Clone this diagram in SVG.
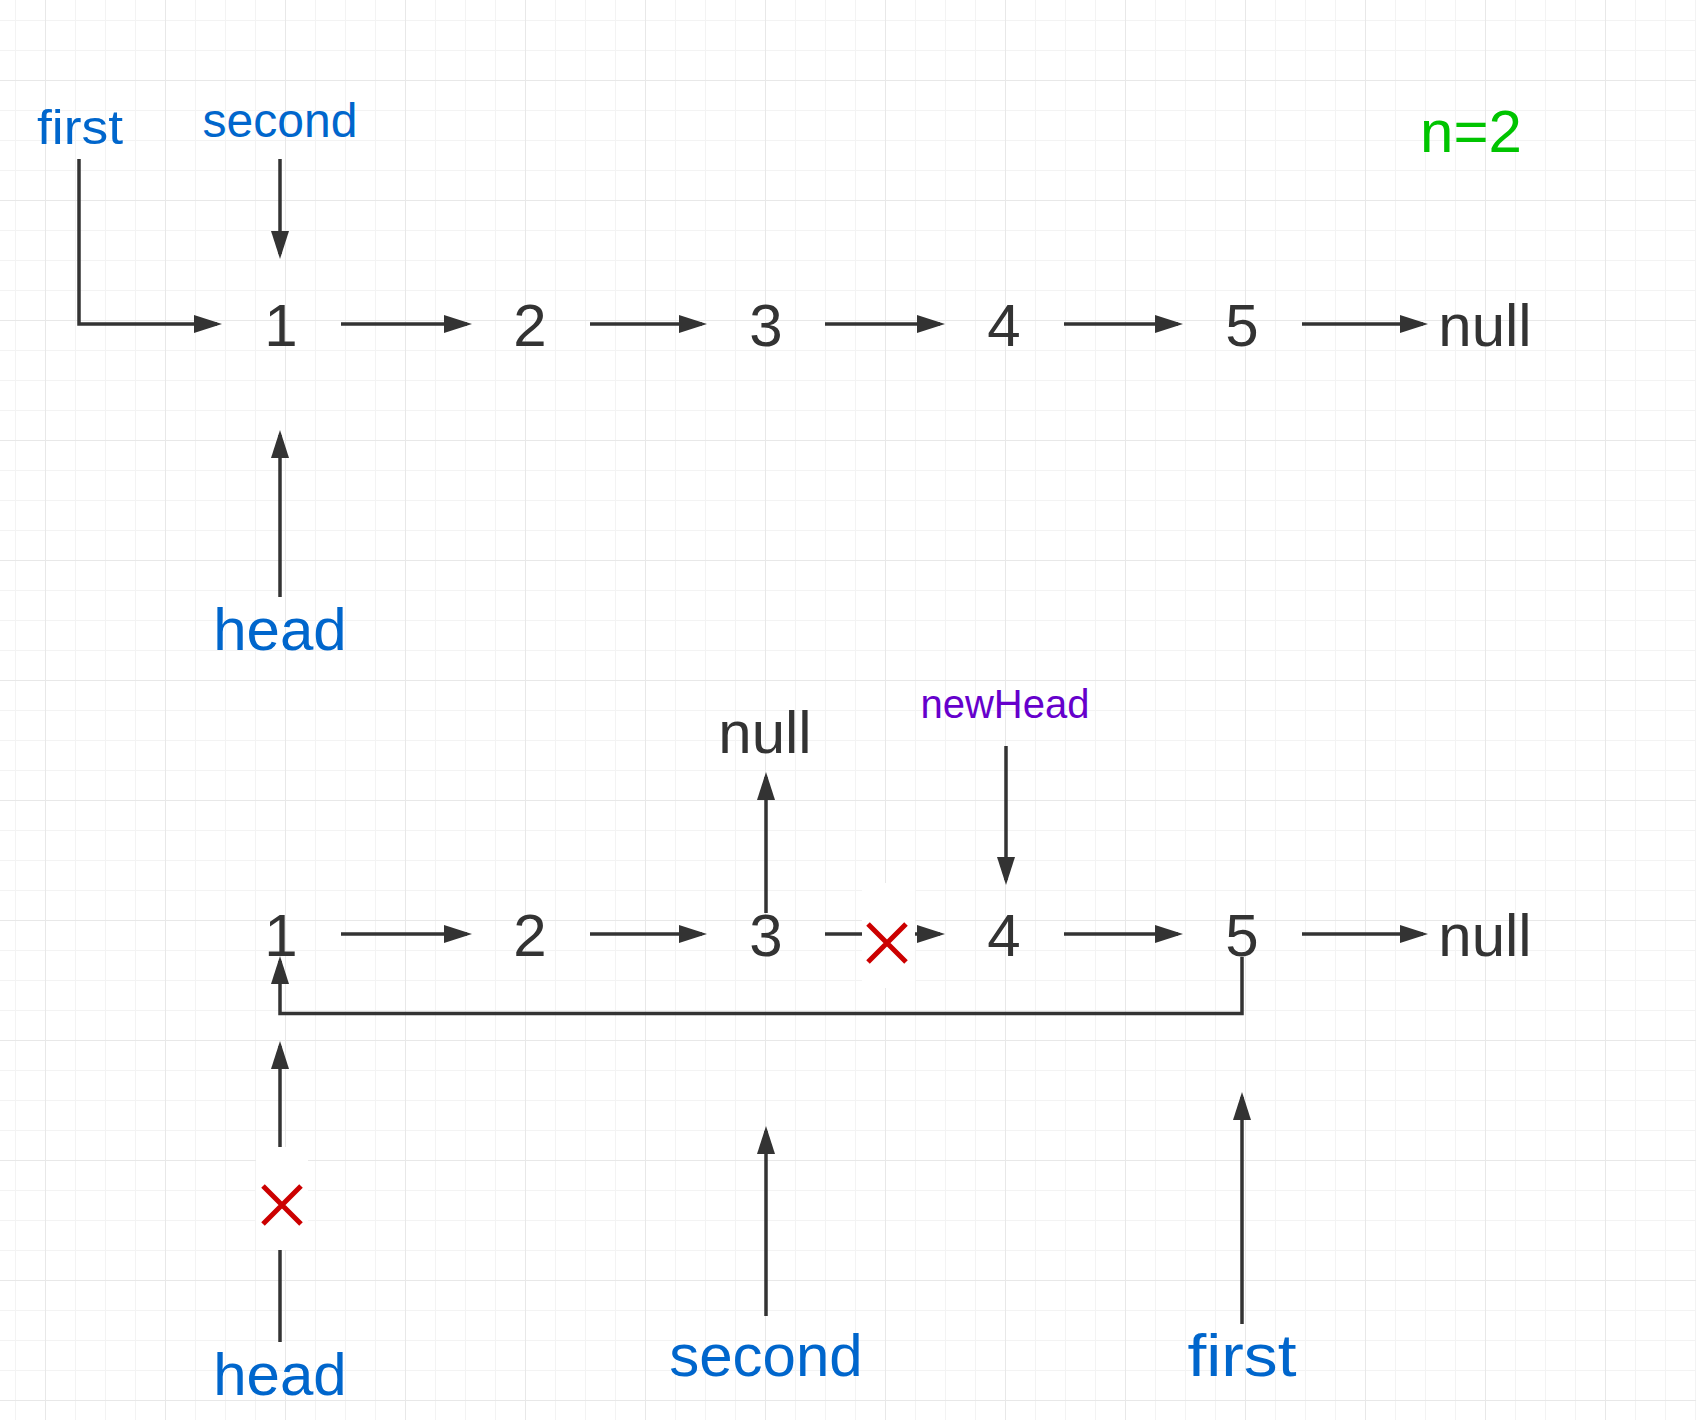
<svg xmlns="http://www.w3.org/2000/svg" width="1696" height="1420" viewBox="0 0 1696 1420">
  <defs>
    <pattern id="gridMinor" patternUnits="userSpaceOnUse" x="15" y="20" width="30" height="30">
      <rect x="0" y="0" width="30" height="1" fill="#f3f3f3"/>
      <rect x="0" y="0" width="1" height="30" fill="#f3f3f3"/>
    </pattern>
    <pattern id="gridMajor" patternUnits="userSpaceOnUse" x="45" y="80" width="120" height="120">
      <rect x="0" y="0" width="120" height="1" fill="#e8e8e8"/>
      <rect x="0" y="0" width="1" height="120" fill="#e8e8e8"/>
    </pattern>
    <marker id="arrow" viewBox="0 0 28 18" refX="23" refY="9" markerWidth="28" markerHeight="18" markerUnits="userSpaceOnUse" orient="auto">
      <path d="M0,0 L28,9 L0,18 Z" fill="#333333"/>
    </marker>
  </defs>
  <style>
    .val { font-family: "Liberation Sans", Arial, Helvetica, sans-serif; font-size: 60px; fill: #333333; text-anchor: middle; }
    .ptr { font-family: "Liberation Sans", Arial, Helvetica, sans-serif; fill: #0066cc; text-anchor: middle; }
    .big { font-size: 60px; }
    .small { font-size: 48px; }
    .edge { fill: none; stroke: #333333; stroke-width: 3.5; marker-end: url(#arrow); }
    .mask { fill: #ffffff; stroke: none; }
    .cross { stroke: #cc0000; stroke-width: 5; fill: none; }
  </style>

  <rect x="0" y="0" width="1696" height="1420" fill="#ffffff"/>
  <rect x="0" y="0" width="1696" height="1420" fill="url(#gridMinor)"/>
  <rect x="0" y="0" width="1696" height="1420" fill="url(#gridMajor)"/>

  <g id="connectors">
    <path class="edge" d="M79 159 V324 H217"/>
    <path class="edge" d="M280 159 V254"/>
    <path class="edge" d="M280 597 V435"/>
    <path class="edge" d="M341 324 H467"/>
    <path class="edge" d="M590 324 H702"/>
    <path class="edge" d="M825 324 H940"/>
    <path class="edge" d="M1064 324 H1178"/>
    <path class="edge" d="M1302 324 H1423"/>
    <path class="edge" d="M341 934 H467"/>
    <path class="edge" d="M590 934 H702"/>
    <path class="edge" d="M825 934 H940"/>
    <path class="edge" d="M1064 934 H1178"/>
    <path class="edge" d="M1302 934 H1423"/>
    <path class="edge" d="M766 913 V777"/>
    <path class="edge" d="M1006 746 V880"/>
    <path class="edge" d="M1242 957 V1013.5 H280 V961"/>
    <path class="edge" d="M280 1342 V1046"/>
    <path class="edge" d="M766 1316 V1131"/>
    <path class="edge" d="M1242 1324 V1097"/>
    <g id="cut-3-4">
      <rect class="mask" x="862" y="883" width="53" height="105"/>
      <path class="cross" d="M868 924 L906 962 M906 924 L868 962"/>
    </g>
    <g id="cut-head">
      <rect class="mask" x="256" y="1147" width="52" height="103"/>
      <path class="cross" d="M263 1186 L301 1224 M301 1186 L263 1224"/>
    </g>
  </g>

  <g id="top-first"><text class="ptr small" x="80" y="144" textLength="86" lengthAdjust="spacingAndGlyphs">first</text></g>
  <g id="top-second"><text class="ptr small" x="280" y="137">second</text></g>
  <g id="n-label"><text x="1471" y="152" font-family="Liberation Sans, Arial, sans-serif" font-size="60" fill="#00c400" text-anchor="middle">n=2</text></g>
  <g id="top-n1"><text class="val" x="281" y="346">1</text></g>
  <g id="top-n2"><text class="val" x="530" y="346">2</text></g>
  <g id="top-n3"><text class="val" x="766" y="346">3</text></g>
  <g id="top-n4"><text class="val" x="1004" y="346">4</text></g>
  <g id="top-n5"><text class="val" x="1242" y="346">5</text></g>
  <g id="top-null"><text class="val" x="1485" y="346">null</text></g>
  <g id="top-head"><text class="ptr big" x="280" y="650">head</text></g>

  <g id="mid-null"><text class="val" x="765" y="753">null</text></g>
  <g id="newHead"><text x="1005" y="718" font-family="Liberation Sans, Arial, sans-serif" font-size="40" fill="#6600cc" text-anchor="middle">newHead</text></g>
  <g id="bot-n1"><text class="val" x="281" y="956">1</text></g>
  <g id="bot-n2"><text class="val" x="530" y="956">2</text></g>
  <g id="bot-n3"><text class="val" x="766" y="956">3</text></g>
  <g id="bot-n4"><text class="val" x="1004" y="956">4</text></g>
  <g id="bot-n5"><text class="val" x="1242" y="956">5</text></g>
  <g id="bot-null"><text class="val" x="1485" y="956">null</text></g>
  <g id="bot-head"><text class="ptr big" x="280" y="1395">head</text></g>
  <g id="bot-second"><text class="ptr big" x="766" y="1376">second</text></g>
  <g id="bot-first"><text class="ptr big" x="1242" y="1376" textLength="109" lengthAdjust="spacingAndGlyphs">first</text></g>
</svg>
